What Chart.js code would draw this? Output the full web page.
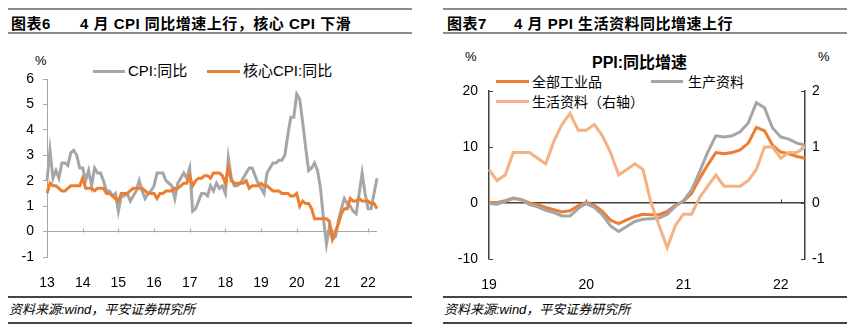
<!DOCTYPE html>
<html>
<head>
<meta charset="utf-8">
<script src="https://cdn.jsdelivr.net/npm/chart.js@4.4.1/dist/chart.umd.min.js"></script>
<style>
    body { margin: 0; background: #fff; }
    #page { position: relative; width: 851px; height: 325px; overflow: hidden; font-family: 'Liberation Sans', Arial, 'Noto Sans CJK SC', sans-serif; color: #000; }
    .abs { position: absolute; white-space: nowrap; }
    .rule { position: absolute; background: #8c8c8c; height: 2px; }
    .foot-rule { position: absolute; background: #444; height: 2px; }
    .title { font-size: 15px; font-weight: bold; letter-spacing: 0.5px; line-height: 19px; top: 14px; }
    .foot { font-size: 13px; font-style: italic; line-height: 16px; top: 302px; }
    .unit { font-size: 13px; line-height: 15px; }
    .legend { font-size: 15px; line-height: 18px; }
    .legend-r { font-size: 14px; line-height: 18px; }
    .swatch { position: absolute; height: 3px; }
    .chart-box { position: absolute; }
</style>
</head>
<body>
<div id="page">
    <div class="rule" style="left:8px; top:8px; width:404px;"></div>
    <div class="rule" style="left:8px; top:32px; width:404px;"></div>
    <div class="abs title" style="left:11px;">图表6</div>
    <div class="abs title" style="left:80px;">4 月 CPI 同比增速上行，核心 CPI 下滑</div>

    <div class="rule" style="left:443px; top:8px; width:404px;"></div>
    <div class="rule" style="left:443px; top:32px; width:404px;"></div>
    <div class="abs title" style="left:447px;">图表7</div>
    <div class="abs title" style="left:514px;">4 月 PPI 生活资料同比增速上行</div>

    <!-- left chart -->
    <div class="abs unit" style="left:35px; top:53px;">%</div>
    <div class="swatch" style="left:93px; top:70px; width:32px; background:#a6a6a6;"></div>
    <div class="abs legend" style="left:128px; top:62px;">CPI:同比</div>
    <div class="swatch" style="left:207px; top:70px; width:33px; background:#ed7d31;"></div>
    <div class="abs legend" style="left:243px; top:62px;">核心CPI:同比</div>
    <div class="chart-box" style="left:0; top:40px; width:420px; height:248px;"><canvas id="cpiChart"></canvas></div>

    <!-- right chart -->
    <div class="abs unit" style="left:465px; top:49px;">%</div>
    <div class="abs unit" style="left:818px; top:49px;">%</div>
    <div class="abs" style="left:592px; top:53px; font-size:16px; font-weight:bold; line-height:20px;">PPI:同比增速</div>
    <div class="swatch" style="left:496px; top:80px; width:33px; background:#ed7d31;"></div>
    <div class="abs legend-r" style="left:532px; top:73px;">全部工业品</div>
    <div class="swatch" style="left:651px; top:80px; width:32px; background:#a5a5a5;"></div>
    <div class="abs legend-r" style="left:688px; top:73px;">生产资料</div>
    <div class="swatch" style="left:496px; top:100px; width:33px; background:#f4b183;"></div>
    <div class="abs legend-r" style="left:532px; top:93px;">生活资料（右轴）</div>
    <div class="chart-box" style="left:425px; top:40px; width:426px; height:250px;"><canvas id="ppiChart"></canvas></div>

    <div class="foot-rule" style="left:8px; top:296px; width:404px;"></div>
    <div class="foot-rule" style="left:8px; top:322px; width:404px;"></div>
    <div class="abs foot" style="left:9px;">资料来源:wind，平安证券研究所</div>
    <div class="foot-rule" style="left:443px; top:296px; width:404px;"></div>
    <div class="foot-rule" style="left:443px; top:322px; width:404px;"></div>
    <div class="abs foot" style="left:444px;">资料来源:wind，平安证券研究所</div>
</div>

<script>
// 图表6: CPI 与核心 CPI 同比, 2013-01 ~ 2022-04
const cpiYears = ['13', '14', '15', '16', '17', '18', '19', '20', '21', '22'];
const cpiValues = [
    2.0, 3.2, 2.1, 2.4, 2.1, 2.7, 2.7, 2.6, 3.1, 3.2, 3.0, 2.5,
    2.5, 2.0, 2.4, 1.8, 2.5, 2.3, 2.3, 2.0, 1.6, 1.6, 1.4, 1.5,
    0.8, 1.4, 1.4, 1.5, 1.2, 1.4, 1.6, 2.0, 1.6, 1.3, 1.5, 1.6,
    1.8, 2.3, 2.3, 2.3, 2.0, 1.9, 1.8, 1.3, 1.9, 2.1, 2.3, 2.1,
    2.5, 0.8, 0.9, 1.2, 1.5, 1.5, 1.4, 1.8, 1.6, 1.9, 1.7, 1.8,
    1.5, 2.9, 2.1, 1.8, 1.8, 1.9, 2.1, 2.3, 2.5, 2.5, 2.2, 1.9,
    1.7, 1.5, 2.3, 2.5, 2.7, 2.7, 2.8, 2.8, 3.0, 3.8, 4.5, 4.5,
    5.4, 5.2, 4.3, 3.3, 2.4, 2.5, 2.7, 2.4, 1.7, 0.5, -0.5, 0.2,
    -0.3, -0.2, 0.4, 0.9, 1.3, 1.1, 1.0, 0.8, 0.7, 1.5, 2.3, 1.5,
    0.9, 0.9, 1.5, 2.1,
];
const coreCpiValues = [
    1.5, 1.9, 1.8, 1.8, 1.7, 1.6, 1.6, 1.7, 1.8, 1.8, 1.8, 1.8,
    2.1, 1.7, 1.7, 1.7, 1.6, 1.7, 1.7, 1.7, 1.5, 1.5, 1.4, 1.3,
    1.2, 1.5, 1.5, 1.5, 1.6, 1.7, 1.7, 1.7, 1.7, 1.6, 1.5, 1.5,
    1.5, 1.3, 1.5, 1.5, 1.6, 1.6, 1.6, 1.7, 1.7, 1.8, 1.9, 1.9,
    2.2, 1.8, 2.0, 2.1, 2.1, 2.2, 2.2, 2.1, 2.3, 2.3, 2.3, 2.2,
    1.9, 2.5, 2.0, 1.9, 1.9, 1.9, 1.9, 2.0, 1.7, 1.8, 1.8, 1.8,
    1.9, 1.8, 1.8, 1.7, 1.6, 1.6, 1.6, 1.5, 1.5, 1.5, 1.4, 1.4,
    1.5, 1.0, 1.2, 1.1, 1.1, 0.9, 0.5, 0.5, 0.5, 0.5, 0.5, 0.4,
    -0.3, 0.0, 0.3, 0.7, 0.9, 0.9, 1.3, 1.2, 1.2, 1.3, 1.2, 1.2,
    1.2, 1.1, 1.1, 0.9,
];

// 图表7: PPI 同比, 2019-01 ~ 2022-04
const ppiYears = ['19', '20', '21', '22'];
const ppiAllValues = [
    0.1, 0.1, 0.4, 0.9, 0.6, 0.0, -0.3, -0.8, -1.2, -1.6, -1.4, -0.5,
    0.1, -0.4, -1.5, -3.1, -3.7, -3.0, -2.4, -2.0, -2.1, -2.1, -1.5, -0.4,
    0.3, 1.7, 4.4, 6.8, 9.0, 8.8, 9.0, 9.5, 10.7, 13.5, 12.9, 10.3,
    9.1, 8.8, 8.3, 8.0,
];
const producerValues = [
    -0.1, -0.2, 0.3, 0.8, 0.6, -0.3, -0.7, -1.3, -1.7, -2.3, -2.3, -1.0,
    -0.1, -0.8, -2.1, -4.1, -5.1, -4.2, -3.3, -2.9, -2.8, -2.7, -2.0, -0.6,
    0.4, 2.3, 5.6, 9.1, 12.0, 11.8, 12.0, 12.7, 14.3, 17.9, 17.0, 13.4,
    11.8, 11.4, 10.7, 10.3,
];
const consumerValues = [
    0.6, 0.4, 0.5, 0.9, 0.9, 0.9, 0.8, 0.7, 1.1, 1.4, 1.6, 1.3,
    1.3, 1.4, 1.2, 0.9, 0.5, 0.6, 0.7, 0.6, 0.0, -0.4, -0.8, -0.4,
    -0.2, -0.2, 0.1, 0.3, 0.5, 0.3, 0.3, 0.3, 0.4, 0.6, 1.0, 1.0,
    0.8, 0.9, 0.9, 1.0,
];

const monthLabels = (count) => Array.from({ length: count }, (_, i) => i);

Chart.defaults.font.family = "'Liberation Sans', Arial, 'Noto Sans CJK SC', sans-serif";
Chart.defaults.font.size = 14;
Chart.defaults.color = '#000';

// short tick marks drawn on the zero line and inside the value axes
const tickMarks = {
    id: 'tickMarks',
    beforeDatasetsDraw(chart, args, opts) {
        const { ctx, chartArea, scales } = chart;
        const zeroY = Math.round(scales.y.getPixelForValue(0)) + 0.5;
        ctx.save();
        ctx.strokeStyle = opts.color;
        ctx.lineWidth = 1;
        ctx.beginPath();
        (opts.xTicks || []).forEach((i) => {
            const x = Math.round(scales.x.getPixelForValue(i)) + 0.5;
            ctx.moveTo(x, zeroY);
            ctx.lineTo(x, zeroY - opts.len);
        });
        (opts.inner || []).forEach((id) => {
            const scale = scales[id];
            const left = scale.position === 'left';
            const ax = left ? chartArea.left : chartArea.right;
            scale.ticks.forEach((t) => {
                const y = Math.round(scale.getPixelForValue(t.value)) + 0.5;
                ctx.moveTo(ax, y);
                ctx.lineTo(left ? ax + opts.len : ax - opts.len, y);
            });
        });
        ctx.stroke();
        ctx.restore();
    },
};

const lineDefaults = { borderWidth: 3, pointRadius: 0, tension: 0, fill: false };

new Chart(document.getElementById('cpiChart'), {
    type: 'line',
    data: {
        labels: monthLabels(cpiValues.length),
        datasets: [
            { ...lineDefaults, label: 'CPI:同比', data: cpiValues, borderColor: '#a6a6a6', order: 1 },
            { ...lineDefaults, label: '核心CPI:同比', data: coreCpiValues, borderColor: '#ed7d31', order: 0 },
        ],
    },
    plugins: [tickMarks],
    options: {
        responsive: true,
        maintainAspectRatio: false,
        animation: false,
        layout: { padding: { top: 39, right: 43, bottom: 0, left: 0 } },
        plugins: {
            legend: { display: false },
            tooltip: { enabled: false },
            tickMarks: { color: '#a6a6a6', len: 4, xTicks: [12, 24, 36, 48, 60, 72, 84, 96, 108] },
        },
        scales: {
            x: {
                offset: false,
                grid: { display: false },
                border: { display: false },
                ticks: {
                    autoSkip: false,
                    maxRotation: 0,
                    padding: 10,
                    callback: (v, i) => (i % 12 === 0 ? cpiYears[i / 12] : ''),
                },
                afterFit: (scale) => { scale.height = 31; },
            },
            y: {
                min: -1,
                max: 6,
                ticks: { stepSize: 1, padding: 9 },
                grid: {
                    color: (c) => (c.tick && c.tick.value === 0 ? '#a6a6a6' : 'rgba(0,0,0,0)'),
                    tickColor: '#a6a6a6',
                    tickLength: 4,
                },
                border: { color: '#a6a6a6' },
                afterFit: (scale) => { scale.width = 47; },
            },
        },
    },
});

new Chart(document.getElementById('ppiChart'), {
    type: 'line',
    data: {
        labels: monthLabels(ppiAllValues.length),
        datasets: [
            { ...lineDefaults, label: '全部工业品', data: ppiAllValues, borderColor: '#ed7d31', yAxisID: 'y', order: 2 },
            { ...lineDefaults, label: '生产资料', data: producerValues, borderColor: '#a5a5a5', yAxisID: 'y', order: 1 },
            { ...lineDefaults, label: '生活资料（右轴）', data: consumerValues, borderColor: '#f4b183', yAxisID: 'y1', order: 0 },
        ],
    },
    plugins: [tickMarks],
    options: {
        responsive: true,
        maintainAspectRatio: false,
        animation: false,
        layout: { padding: { top: 51, right: 0, bottom: 0, left: 0 } },
        plugins: {
            legend: { display: false },
            tooltip: { enabled: false },
            tickMarks: { color: '#404040', len: 4, xTicks: [12, 24, 36], inner: ['y', 'y1'] },
        },
        scales: {
            x: {
                offset: false,
                grid: { display: false },
                border: { display: false },
                ticks: {
                    autoSkip: false,
                    maxRotation: 0,
                    padding: 10,
                    callback: (v, i) => (i % 12 === 0 ? ppiYears[i / 12] : ''),
                },
                afterFit: (scale) => { scale.height = 31; },
            },
            y: {
                position: 'left',
                min: -10,
                max: 20,
                ticks: { stepSize: 10, padding: 11 },
                grid: {
                    drawTicks: false,
                    color: (c) => (c.tick && c.tick.value === 0 ? '#404040' : 'rgba(0,0,0,0)'),
                    lineWidth: 1.5,
                },
                border: { color: '#404040', width: 1.5 },
                afterFit: (scale) => { scale.width = 64; },
            },
            y1: {
                position: 'right',
                min: -1,
                max: 2,
                ticks: { stepSize: 1, padding: 7 },
                grid: { display: false, drawTicks: false },
                border: { color: '#404040', width: 1.5 },
                afterFit: (scale) => { scale.width = 46; },
            },
        },
    },
});
</script>
</body>
</html>
